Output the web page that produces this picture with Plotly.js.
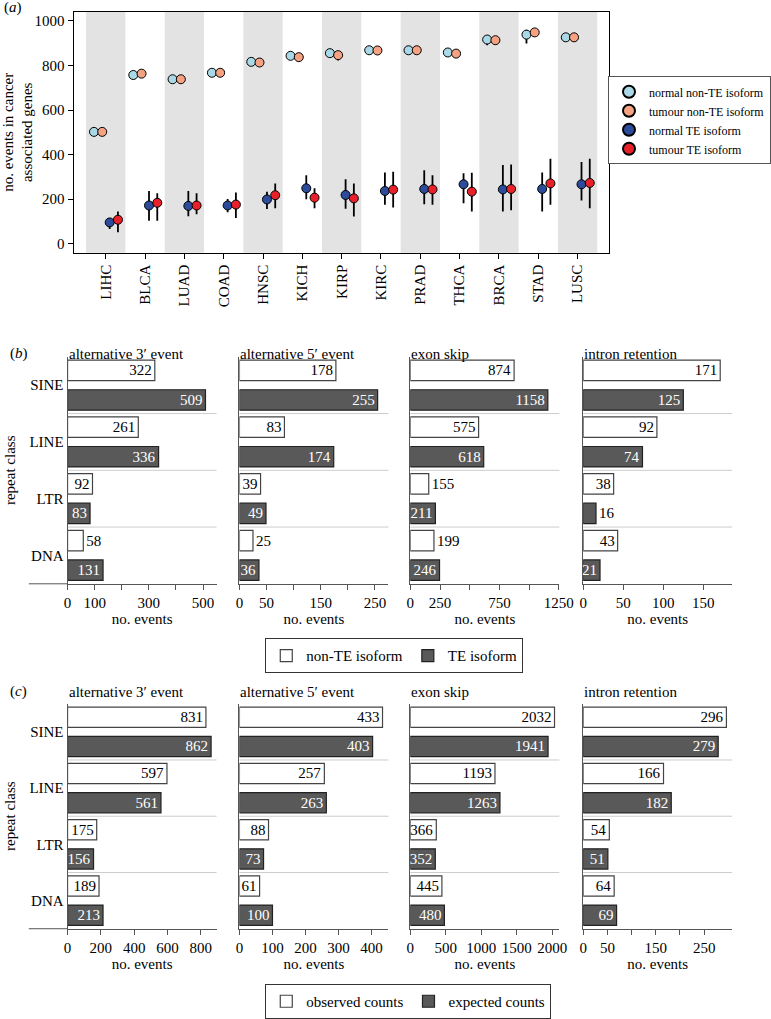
<!DOCTYPE html>
<html><head><meta charset="utf-8">
<script src="https://cdn.plot.ly/plotly-3.0.1.min.js"></script>
<style>html,body{margin:0;padding:0;background:#fff}#chart{width:771px;height:1019px}</style>
</head><body><div id="chart"></div>
<script>
// ---------- Panel (a) data ----------
const cancers = ['LIHC','BLCA','LUAD','COAD','HNSC','KICH','KIRP','KIRC','PRAD','THCA','BRCA','STAD','LUSC'];
const normalNonTE      = [502,757,738,767,816,843,855,868,868,858,916,938,926];
const normalNonTEUp    = [4,5,4,4,6,5,5,4,5,4,14,22,6];
const normalNonTEDown  = [4,5,4,4,19,5,5,4,8,4,26,40,6];
const tumourNonTE      = [502,763,738,767,813,837,846,867,868,853,913,948,926];
const tumourNonTEUp    = [4,5,4,4,5,5,6,4,5,4,10,6,6];
const tumourNonTEDown  = [4,5,4,4,5,5,24,4,5,4,22,6,16];
const normalTE         = [96,172,170,172,199,249,219,237,246,267,244,246,267];
const normalTEUp       = [20,65,67,29,35,59,70,83,84,49,109,74,100];
const normalTEDown     = [29,68,46,30,43,49,62,62,68,85,99,101,73];
const tumourTE         = [108,184,172,176,218,207,204,243,244,234,246,271,273];
const tumourTEUp       = [37,43,55,54,53,42,67,80,64,85,110,110,109];
const tumourTEDown     = [56,80,39,60,58,47,81,80,69,89,95,96,113];
const yTicksA          = [0,200,400,600,800,1000];

// ---------- Panels (b), (c) data ----------
const repeatClasses = ['SINE','LINE','LTR','DNA'];
const eventTypes = ['alternative 3\u2032 event','alternative 5\u2032 event','exon skip','intron retention'];
// (b) non-TE isoform vs TE isoform
const bNonTE_alt3 = [322,261,92,58];
const bNonTE_alt5 = [178,83,39,25];
const bNonTE_exon = [874,575,155,199];
const bNonTE_intr = [171,92,38,43];
const bTE_alt3 = [509,336,83,131];
const bTE_alt5 = [255,174,49,36];
const bTE_exon = [1158,618,211,246];
const bTE_intr = [125,74,16,21];
// (c) observed vs expected counts
const cObs_alt3 = [831,597,175,189];
const cObs_alt5 = [433,257,88,61];
const cObs_exon = [2032,1193,366,445];
const cObs_intr = [296,166,54,64];
const cExp_alt3 = [862,561,156,213];
const cExp_alt5 = [403,263,73,100];
const cExp_exon = [1941,1263,352,480];
const cExp_intr = [279,182,51,69];

// tick settings per subplot
const bTickVals = [[0,100,200,300,400,500],[0,50,100,150,200,250],[0,250,500,750,1000,1250],[0,50,100,150]];
const bTickText = [['0','100','','300','','500'],['0','50','','150','','250'],['0','250','','750','','1250'],['0','50','100','150']];
const cTickVals = [[0,200,400,600,800],[0,100,200,300,400],[0,500,1000,1500,2000],[0,50,100,150,200,250]];
const cTickText = [['0','200','400','600','800'],['0','100','200','300','400'],['0','500','1000','1500','2000'],['0','50','','150','','250']];

// ---------- layout helpers ----------
const W = 771, H = 1019;
const FONT = 'Liberation Serif, "Times New Roman", serif';
const px = x => x / W;
const py = y => 1 - y / H;

const traces = [];
function dotTrace(name, vals, up, down, color, off) {
  return {
    type: 'scatter', mode: 'markers', name: name,
    x: cancers.map((_, i) => i + off), y: vals,
    marker: {size: 9, color: color, line: {color: 'black', width: 1}},
    error_y: {type: 'data', symmetric: false, array: up, arrayminus: down, color: 'black', thickness: 1.8, width: 0},
    xaxis: 'x', yaxis: 'y', legend: 'legend', hoverinfo: 'skip'
  };
}
traces.push(dotTrace('normal non-TE isoform', normalNonTE, normalNonTEUp, normalNonTEDown, '#a9d9e6', -0.3));
traces.push(dotTrace('tumour non-TE isoform', tumourNonTE, tumourNonTEUp, tumourNonTEDown, '#f5a283', -0.09));
traces.push(dotTrace('normal TE isoform', normalTE, normalTEUp, normalTEDown, '#2d4b9b', 0.1));
traces.push(dotTrace('tumour TE isoform', tumourTE, tumourTEUp, tumourTEDown, '#e8202a', 0.31));

function barPair(v1, v2, pos1, pos2, ax, n1, n2, leg, showleg) {
  const common = {type: 'bar', orientation: 'h', y: repeatClasses, xaxis: 'x' + ax, yaxis: 'y' + ax,
    textangle: 0, constraintext: 'none', insidetextanchor: 'end', cliponaxis: false,
    legend: leg, showlegend: showleg, hoverinfo: 'skip', width: 0.36};
  traces.push(Object.assign({}, common, {
    name: n1, x: v1, text: v1.map(String), textposition: pos1, offset: -0.44,
    marker: {color: 'white', line: {color: '#444', width: 1.2}},
    textfont: {family: FONT, size: 15, color: 'black'}
  }));
  traces.push(Object.assign({}, common, {
    name: n2, x: v2, text: v2.map(String), textposition: pos2, offset: 0.08,
    marker: {color: '#595959', line: {color: '#222', width: 1.2}},
    insidetextfont: {family: FONT, size: 15, color: 'white'},
    outsidetextfont: {family: FONT, size: 15, color: 'black'}
  }));
}
const I = 'inside', O = 'outside';
const bNon = [bNonTE_alt3, bNonTE_alt5, bNonTE_exon, bNonTE_intr];
const bTE = [bTE_alt3, bTE_alt5, bTE_exon, bTE_intr];
const bPosNon = [[I,I,I,O],[I,I,I,O],[I,I,O,O],[I,I,I,I]];
const bPosTE = [[I,I,I,I],[I,I,I,I],[I,I,I,I],[I,I,O,I]];
const cObs = [cObs_alt3, cObs_alt5, cObs_exon, cObs_intr];
const cExp = [cExp_alt3, cExp_alt5, cExp_exon, cExp_intr];
for (let k = 0; k < 4; k++) {
  barPair(bNon[k], bTE[k], bPosNon[k], bPosTE[k], k + 2, 'non-TE isoform', 'TE isoform', 'legend2', k === 0);
}
for (let k = 0; k < 4; k++) {
  barPair(cObs[k], cExp[k], [I,I,I,I], [I,I,I,I], k + 6, 'observed counts', 'expected counts', 'legend3', k === 0);
}

const layout = {
  width: W, height: H, margin: {l: 0, r: 0, t: 0, b: 0},
  paper_bgcolor: 'white', plot_bgcolor: 'rgba(0,0,0,0)',
  font: {family: FONT, size: 15, color: 'black'},
  barmode: 'overlay',
  xaxis: {
    domain: [px(74), px(613)], range: [-0.82, 12.8], anchor: 'y',
    tickvals: cancers.map((_, i) => i), ticktext: cancers, tickangle: -90,
    ticks: 'outside', ticklen: 5, tickcolor: 'black', showline: true, mirror: true, linecolor: 'black', linewidth: 1,
    showgrid: false, zeroline: false, tickfont: {size: 15}
  },
  yaxis: {
    domain: [py(255), py(12)], range: [-40, 1040], anchor: 'x',
    tickvals: yTicksA, ticks: 'outside', ticklen: 5, tickcolor: 'black',
    showline: true, mirror: true, linecolor: 'black', linewidth: 1,
    showgrid: false, zeroline: false, tickfont: {size: 15},
    title: {text: 'no. events in cancer<br>associated genes', font: {size: 15}, standoff: 6}
  },
  legend: {
    x: px(612), y: py(77), xanchor: 'left', yanchor: 'top',
    bgcolor: 'white', bordercolor: '#555', borderwidth: 1,
    font: {size: 12}, itemsizing: 'constant', tracegroupgap: 0
  },
  legend2: {
    orientation: 'h', x: px(267), y: py(644), xanchor: 'left', yanchor: 'top',
    bgcolor: 'white', bordercolor: '#333', borderwidth: 1, font: {size: 15}
  },
  legend3: {
    orientation: 'h', x: px(267), y: py(993), xanchor: 'left', yanchor: 'top',
    bgcolor: 'white', bordercolor: '#333', borderwidth: 1, font: {size: 15}
  },
  shapes: [], annotations: []
};

// alternating grey bands (panel a)
cancers.forEach((c, i) => {
  if (i % 2 === 0) {
    layout.shapes.push({type: 'rect', xref: 'x', yref: 'y domain', x0: i - 0.5, x1: i + 0.5, y0: 0, y1: 1,
      fillcolor: '#e3e3e3', line: {width: 0}, layer: 'below'});
  }
});

const xDom = [[68,218],[241,391],[413,563],[587,737]];
const bRanges = [[0,550],[0,275],[0,1255],[0,186]];
const cRanges = [[0,895],[0,451],[0,2100],[0,308]];
function barAxes(startIdx, top, bottom, ranges, tv, tt, titleY) {
  for (let k = 0; k < 4; k++) {
    const n = startIdx + k;
    layout['xaxis' + n] = {
      domain: [px(xDom[k][0]), px(xDom[k][1])], range: ranges[k], anchor: 'y' + n,
      tickvals: tv[k], ticktext: tt[k], ticks: 'outside', ticklen: 5, tickcolor: '#555',
      showline: true, linecolor: '#555', linewidth: 1, showgrid: false, zeroline: false,
      tickfont: {size: 15}, title: {text: 'no. events', font: {size: 15}, standoff: 1}
    };
    layout['yaxis' + n] = {
      domain: [py(bottom), py(top)], anchor: 'x' + n, type: 'category',
      categoryorder: 'array', categoryarray: repeatClasses, range: [3.5, -0.5],
      showline: true, linecolor: '#555', linewidth: 1, ticks: '', showgrid: false, zeroline: false,
      showticklabels: k === 0, tickfont: {size: 15},
      title: k === 0 ? {text: 'repeat class', font: {size: 15}, standoff: 10} : {text: ''}
    };
    [0.5, 1.5, 2.5].forEach(s => layout.shapes.push({type: 'line', xref: 'x' + n + ' domain', yref: 'y' + n,
      x0: 0, x1: 1, y0: s, y1: s, line: {color: '#cccccc', width: 1}, layer: 'below'}));
    layout.annotations.push({xref: 'x' + n + ' domain', yref: 'paper', x: 0, y: py(titleY), xanchor: 'left', yanchor: 'middle',
      xshift: -1, text: eventTypes[k], showarrow: false, font: {size: 15}});
  }
  // extension of the bottom axis line to the left
  layout.shapes.push({type: 'line', xref: 'paper', yref: 'paper', x0: px(29), x1: px(68), y0: py(bottom), y1: py(bottom),
    line: {color: '#555', width: 1}});
}
barAxes(2, 360, 589, bRanges, bTickVals, bTickText, 357);
barAxes(6, 710, 937, cRanges, cTickVals, cTickText, 698);

layout.annotations.push({xref: 'paper', yref: 'paper', x: px(2), y: py(8), xanchor: 'left', yanchor: 'middle',
  text: '(<i>a</i>)', showarrow: false, font: {size: 15}});
layout.annotations.push({xref: 'paper', yref: 'paper', x: px(8), y: py(357), xanchor: 'left', yanchor: 'middle',
  text: '(<i>b</i>)', showarrow: false, font: {size: 15}});
layout.annotations.push({xref: 'paper', yref: 'paper', x: px(8), y: py(698), xanchor: 'left', yanchor: 'middle',
  text: '(<i>c</i>)', showarrow: false, font: {size: 15}});

Plotly.newPlot('chart', traces, layout, {displayModeBar: false, staticPlot: true});
</script></body></html>
